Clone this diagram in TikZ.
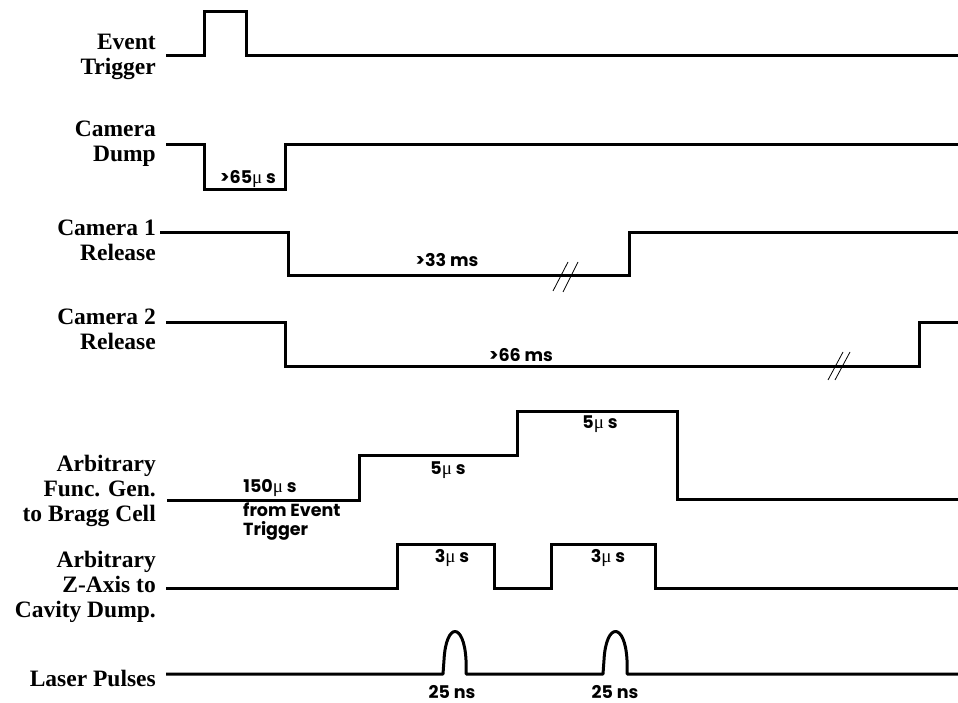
\documentclass[tikz,border=0pt]{standalone}
\usepackage{fontspec}
\setmainfont{Liberation Serif}
\newfontfamily\annfont{Poppins}
\newfontfamily\mufont{Liberation Serif}
\newcommand\muS{{\mufont\mdseries\fontsize{19}{19}\selectfont μ}}
\begin{document}
\begin{tikzpicture}[x=1pt,y=-1pt,
  trace/.style={line width=3pt,line join=miter,line cap=butt},
  brk/.style={line width=0.8pt},
  sig/.style={anchor=east,align=right,font=\fontsize{23.5}{25}\selectfont\bfseries,inner sep=0pt},
  ann/.style={font=\fontsize{17.5}{19}\selectfont\annfont\bfseries,inner sep=0pt}]
\useasboundingbox (0,0) rectangle (958,703);
% signal labels
\node[sig] (lEvent) at (156,57) {Event\\Trigger};
\node[sig] (lDump) at (156,144) {Camera\\Dump};
\node[sig] (lCam1) at (156,240) {Camera 1\\Release};
\node[sig] (lCam2) at (156,329) {Camera 2\\Release};
\node[sig] (lBragg) at (156,491) {Arbitrary\\Func. Gen.\\to Bragg Cell};
\node[sig] (lZ) at (156,587) {Arbitrary\\Z-Axis to\\Cavity Dump.};
\node[sig] (lLaser) at (156,678) {Laser Pulses};
% traces
\draw[trace] (166,56) -- (204,56) -- (204,12) -- (246,12) -- (246,56) -- (958,56);
\draw[trace] (166,145) -- (204,145) -- (204,190) -- (285,190) -- (285,145) -- (958,145);
\draw[trace] (160,233) -- (288,233) -- (288,276) -- (629,276) -- (629,233) -- (958,233);
\draw[trace] (166,322) -- (285,322) -- (285,366) -- (919,366) -- (919,322) -- (958,322);
\draw[trace] (167,500) -- (359,500) -- (359,455) -- (517,455) -- (517,411) -- (677,411) -- (677,499) -- (958,499);
\draw[trace] (166,588) -- (397,588) -- (397,544) -- (494,544) -- (494,588) -- (551,588) -- (551,544) -- (655,544) -- (655,588) -- (958,588);
\draw[trace,line join=round] (166,674) -- (443,674) -- (444,660) .. controls (446,622) and (464,622) .. (466,660) -- (466,674)
  -- (603,674) -- (604,660) .. controls (606,622) and (625,622) .. (627,660) -- (627,674) -- (958,674);
% break marks
\draw[brk] (553,291) -- (568,262) (563,292) -- (578,262);
\draw[brk] (828,380) -- (843,352) (835,380) -- (850,352);
% annotations
\node[ann] (a65) at (248,179) {>65\muS\ s};
\node[ann] (a33) at (447,260) {>33 ms};
\node[ann] (a66) at (521,355) {>66 ms};
\node[ann] (a150) at (270,488) {150\muS\ s};
\node[ann,anchor=north west,align=left,font=\fontsize{17.5}{19}\selectfont\annfont\bfseries] (afrom) at (243,503) {from Event\\Trigger};
\node[ann] (a5a) at (448,470) {5\muS\ s};
\node[ann] (a5b) at (600,424) {5\muS\ s};
\node[ann] (a3a) at (452,558) {3\muS\ s};
\node[ann] (a3b) at (608,558) {3\muS\ s};
\node[ann] (a25a) at (452,692) {25 ns};
\node[ann] (a25b) at (615,692) {25 ns};
\end{tikzpicture}
\end{document}
